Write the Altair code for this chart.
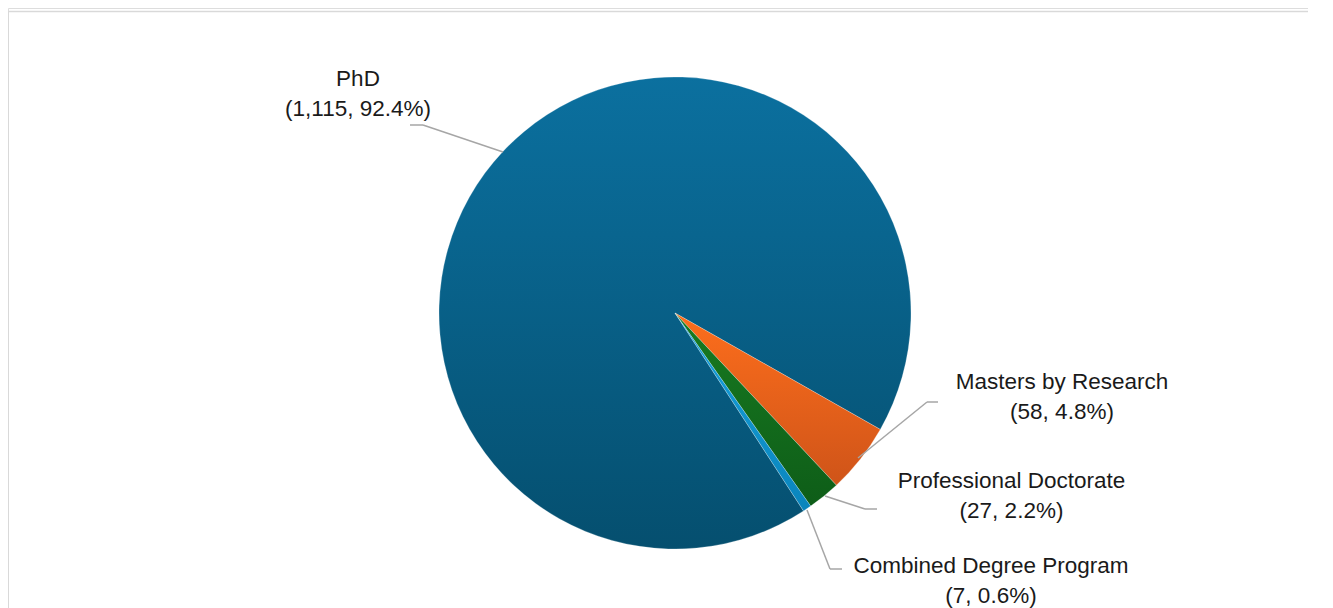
import math
import altair as alt
import pandas as pd

# ---- data ----
categories = ["PhD", "Masters by Research", "Professional Doctorate", "Combined Degree Program"]
counts = [1115, 58, 27, 7]
order = [0, 1, 2, 3]

total = sum(counts)
labels = [f"{c}\n({n:,}, {n / total * 100:.1f}%)" for c, n in zip(categories, counts)]

df = pd.DataFrame({"category": categories, "count": counts, "order": order, "label": labels})

# ---- style ----
W, H = 1300, 600
CX, CY, R = 667, 305, 236
START = math.radians(147.0)
FONT = "Liberation Sans"

gradients = {
    "PhD": ("#0b709f", "#054f6f"),
    "Masters by Research": ("#fd6e1c", "#cf5419"),
    "Professional Doctorate": ("#187b21", "#0e5d18"),
    "Combined Degree Program": ("#17a2de", "#0a85bc"),
}

theta_scale = alt.Scale(domain=[0, total], range=[START, START + 2 * math.pi])

base = alt.Chart(df).transform_window(
    cum="sum(count)", sort=[alt.SortField("order")], frame=[None, 0]
).transform_calculate(start="datum.cum - datum.count")

layers = []
for cat in categories:
    top, bot = gradients[cat]
    grad = alt.LinearGradient(
        gradient="linear",
        stops=[alt.GradientStop(color=top, offset=0), alt.GradientStop(color=bot, offset=1)],
        x1=0, x2=0, y1=0, y2=1,
    )
    layers.append(
        base.transform_filter(alt.datum.category == cat)
        .mark_arc(fill=grad, outerRadius=R, stroke="#ffffff", strokeWidth=0.4, strokeOpacity=0.6)
        .encode(
            theta=alt.Theta("start:Q", scale=theta_scale),
            theta2="cum:Q",
            x=alt.value(CX),
            y=alt.value(CY),
        )
    )

# leader lines (annotation geometry)
leaders = [
    [(402, 117), (415, 117), (495, 144)],
    [(930, 394), (919, 394), (850, 450)],
    [(869, 501), (857, 501), (817, 488)],
    [(834, 561), (822, 561), (799, 502)],
]
for pts in leaders:
    for (x1, y1), (x2, y2) in zip(pts[:-1], pts[1:]):
        layers.append(
            alt.Chart(df).transform_filter(alt.datum.order == 0).mark_rule(color="#a6a6a6", strokeWidth=1.5)
            .encode(x=alt.value(x1), y=alt.value(y1), x2=alt.value(x2), y2=alt.value(y2))
        )

# data labels
label_pos = {
    "PhD": (350, 77.5),
    "Masters by Research": (1054, 381),
    "Professional Doctorate": (1003.5, 480),
    "Combined Degree Program": (983, 565),
}
for cat in categories:
    lx, ly = label_pos[cat]
    layers.append(
        alt.Chart(df).transform_filter(alt.datum.category == cat)
        .mark_text(font=FONT, fontSize=22.5, color="#1a1a1a", align="center", baseline="alphabetic",
                   lineBreak="\n", lineHeight=30)
        .encode(text="label:N", x=alt.value(lx), y=alt.value(ly))
    )

# chart frame (top and left border)
layers.append(
    alt.Chart(df).transform_filter(alt.datum.order == 0).mark_rule(color="#d9d9d9", strokeWidth=1.3)
    .encode(x=alt.value(0), x2=alt.value(W), y=alt.value(3.5))
)
layers.append(
    alt.Chart(df).transform_filter(alt.datum.order == 0).mark_rule(color="#d9d9d9", strokeWidth=2)
    .encode(x=alt.value(0), y=alt.value(3.5), y2=alt.value(H))
)

chart = alt.layer(*layers).properties(
    width=W, height=H, autosize=alt.AutoSizeParams(type="none"), padding=0
).configure_view(stroke=None).configure(background="white")

chart.save("out.html", embed_options={"renderer": "svg", "actions": False})
